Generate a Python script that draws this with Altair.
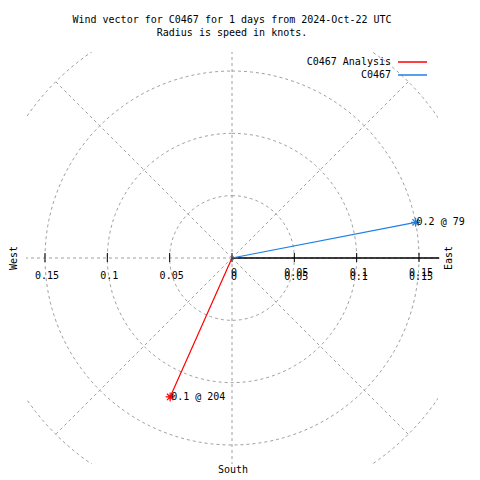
import altair as alt
import numpy as np
import pandas as pd

# ---- data ----
series = ["C0467 Analysis", "C0467"]
speeds = [0.122, 0.15]          # knots
directions = [204, 79]          # degrees (compass)
point_labels = ["0.1 @ 204", "0.2 @ 79"]
series_colors = ["#ff0000", "#1e80e6"]

ring_radii = [0.05, 0.1, 0.15, 0.2]
radial_angles = [0, 45, 90, 135, 180, 225, 270, 315]
tick_values = [-0.15, -0.1, -0.05, 0, 0.05, 0.1, 0.15]
left_tick_labels = ["0.15", "0.1", "0.05"]
left_tick_pos = [-0.15, -0.1, -0.05]
right_tick_labels = ["0", "0.05", "0.1", "0.15"]
right_tick_pos = [0, 0.05, 0.1, 0.15]

title_lines = ["Wind vector for C0467 for 1 days from 2024-Oct-22 UTC",
               "Radius is speed in knots."]

# ---- geometry ----
LIM = 0.16524
W = H = 412
FONT = "DejaVu Sans Mono"
GRID = "#a0a0a0"

xs = alt.Scale(domain=[-LIM, LIM], nice=False, zero=False)
ys = alt.Scale(domain=[-LIM, LIM], nice=False, zero=False)
X = lambda f: alt.X(f, type="quantitative", scale=xs, axis=None)
Y = lambda f: alt.Y(f, type="quantitative", scale=ys, axis=None)

txt = dict(font=FONT, fontSize=10, color="black")


def pixel_text(t, px, py, **kw):
    return alt.Chart(pd.DataFrame({"t": [t]})).mark_text(**txt, **kw).encode(
        x=alt.value(px), y=alt.value(py), text="t:N")


# rings
ang = np.arange(0, 361, 2)
ring_rows = []
for r in ring_radii:
    for a in ang:
        ring_rows.append({"r": r, "a": a,
                          "x": r * np.sin(np.radians(a)),
                          "y": r * np.cos(np.radians(a))})
rings_df = pd.DataFrame(ring_rows)
rings = alt.Chart(rings_df).mark_line(
    color=GRID, strokeDash=[3, 3], strokeWidth=1, clip=True
).encode(x=X("x"), y=Y("y"), detail="r:N", order="a:Q")

# radials
rad_df = pd.DataFrame({
    "x0": [0.0] * len(radial_angles), "y0": [0.0] * len(radial_angles),
    "x": [0.2 * np.sin(np.radians(a)) for a in radial_angles],
    "y": [0.2 * np.cos(np.radians(a)) for a in radial_angles],
})
radials = alt.Chart(rad_df).mark_rule(
    color=GRID, strokeDash=[3, 3], strokeWidth=1, clip=True
).encode(x=X("x0"), y=Y("y0"), x2="x", y2="y")

# black axis on right half
axis_df = pd.DataFrame({"x0": [0.0], "y0": [0.0], "x": [LIM + 0.001], "y": [0.0]})
axis_line = alt.Chart(axis_df).mark_rule(color="black", strokeWidth=1.5).encode(
    x=X("x0"), y=Y("y0"), x2="x", y2="y")

ticks_df = pd.DataFrame({"v": tick_values})
ticks = alt.Chart(ticks_df).mark_rule(color="black", strokeWidth=1).encode(
    x=X("v"), y=alt.value(201), y2=alt.value(210))

lt_df = pd.DataFrame({"v": left_tick_pos, "t": left_tick_labels})
left_labels = alt.Chart(lt_df).mark_text(align="center", baseline="middle", dx=2, **txt).encode(
    x=X("v"), y=alt.value(224), text="t:N")
rt_df = pd.DataFrame({"v": right_tick_pos, "t": right_tick_labels})
right_labels_a = alt.Chart(rt_df).mark_text(align="center", baseline="middle", dx=2, **txt).encode(
    x=X("v"), y=alt.value(221), text="t:N")
right_labels_b = alt.Chart(rt_df).mark_text(align="center", baseline="middle", dx=2, **txt).encode(
    x=X("v"), y=alt.value(225), text="t:N")

# vectors
vec_df = pd.DataFrame({
    "series": series,
    "speed": speeds,
    "dir": directions,
    "label": point_labels,
})
vec_df["x"] = vec_df["speed"] * np.sin(np.radians(vec_df["dir"]))
vec_df["y"] = vec_df["speed"] * np.cos(np.radians(vec_df["dir"]))
vec_df["x0"] = 0.0
vec_df["y0"] = 0.0
color = alt.Color("series:N", scale=alt.Scale(domain=series, range=series_colors), legend=None)

vectors = alt.Chart(vec_df).mark_rule(strokeWidth=1.2).encode(
    x=X("x0"), y=Y("y0"), x2="x", y2="y", color=color)
star = "M-1,0L1,0M0,-1L0,1M-0.7,-0.7L0.7,0.7M-0.7,0.7L0.7,-0.7"
stars = alt.Chart(vec_df).mark_point(shape=star, filled=False, size=81, strokeWidth=1.2, opacity=1).encode(
    x=X("x"), y=Y("y"), color=color)
vlabels = alt.Chart(vec_df).mark_text(align="left", baseline="middle", dx=1, **txt).encode(
    x=X("x"), y=Y("y"), text="label:N")

# compass labels
west = pixel_text("West", -12, 206, angle=270, baseline="middle", align="center")
east = pixel_text("East", 423, 206, angle=270, baseline="middle", align="center")
south = pixel_text("South", 207, 418, baseline="middle", align="center")

# title
title1 = pixel_text(title_lines[0], 206, -32, baseline="middle", align="center")
title2 = pixel_text(title_lines[1], 206, -19, baseline="middle", align="center")

# legend
leg_rows = [10, 23]
leg_text0 = pixel_text(series[0], 365, leg_rows[0], baseline="middle", align="right")
leg_text1 = pixel_text(series[1], 365, leg_rows[1], baseline="middle", align="right")
leg_line0 = alt.Chart(pd.DataFrame({"series": [series[0]]})).mark_rule(strokeWidth=1.5).encode(
    x=alt.value(372), x2=alt.value(401), y=alt.value(leg_rows[0]), color=color)
leg_line1 = alt.Chart(pd.DataFrame({"series": [series[1]]})).mark_rule(strokeWidth=1.5).encode(
    x=alt.value(372), x2=alt.value(401), y=alt.value(leg_rows[1]), color=color)

chart = alt.layer(
    rings, radials, axis_line, ticks, left_labels, right_labels_a, right_labels_b,
    vectors, stars, vlabels, west, east, south, title1, title2,
    leg_text0, leg_text1, leg_line0, leg_line1
).properties(
    width=W, height=H,
    padding={"left": 18, "top": 44, "right": 34, "bottom": 16},
    autosize=alt.AutoSizeParams(type="none"),
).configure_view(stroke=None)

chart.save("out.html", embed_options={"renderer": "svg", "actions": False})
